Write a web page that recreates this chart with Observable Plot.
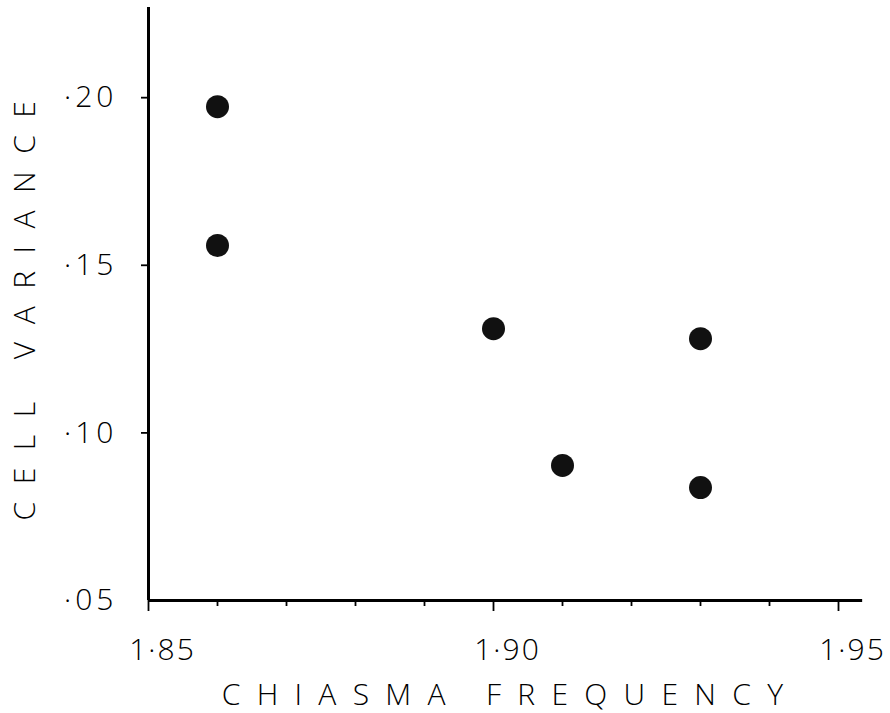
<!DOCTYPE html>
<html>
<head>
<meta charset="utf-8">
<script src="https://cdn.jsdelivr.net/npm/d3@7"></script>
<script src="https://cdn.jsdelivr.net/npm/@observablehq/plot@0.6"></script>
<style>
  html, body { margin: 0; padding: 0; background: #fff; }
  #chart { width: 890px; height: 713px; }
</style>
</head>
<body>
<div id="chart"></div>
<script>
// ---- data ----
const chiasmaFrequency = [1.86, 1.86, 1.90, 1.91, 1.93, 1.93];
const cellVariance     = [0.1973, 0.1559, 0.1311, 0.0903, 0.1281, 0.0837];

const xTicks       = [1.85, 1.90, 1.95];
const xTickLabels  = ["1·85", "1·90", "1·95"];
const xMinorTicks  = [1.86, 1.87, 1.88, 1.89, 1.91, 1.92, 1.93, 1.94];
const yTicks       = [0.05, 0.10, 0.15, 0.20];
const yTickLabels  = ["·05", "·10", "·15", "·20"];
const xTitle = "CHIASMA FREQUENCY";
const yTitle = "CELL VARIANCE";

const points = chiasmaFrequency.map((x, i) => ({x, y: cellVariance[i]}));
const labelOf = (ticks, labels) => d => labels[ticks.findIndex(t => Math.abs(t - d) < 1e-9)];

const FONT = "'Open Sans', 'DejaVu Sans', sans-serif";
const ink = "#000";

const chart = Plot.plot({
  width: 890,
  height: 713,
  marginLeft: 148,
  marginRight: 52,
  marginTop: 7,
  marginBottom: 113,
  style: {fontFamily: FONT, fontWeight: 300, background: "#fff", color: ink},
  x: {domain: [1.85, 1.95], label: null},
  y: {domain: [0.05, 0.2269], label: null},
  marks: [
    // minor x ticks
    Plot.axisX({ticks: xMinorTicks, tickSize: 6, strokeWidth: 1.8, fill: "none", label: null}),
    // major x ticks
    Plot.axisX({ticks: xTicks, tickSize: 11, strokeWidth: 1.8, fill: "none", label: null}),
    // x tick labels
    Plot.axisX({ticks: xTicks, tickSize: 0, tickPadding: 38, dx: 14, fontSize: 30,
                tickFormat: labelOf(xTicks, xTickLabels), label: null}),
    // y ticks (outward)
    Plot.axisY({ticks: [0.10, 0.15, 0.20], tickSize: 7, strokeWidth: 1.8, fill: "none", label: null}),
    // y tick labels
    Plot.axisY({ticks: yTicks, tickSize: 0, tickPadding: 31, fontSize: 30,
                tickFormat: labelOf(yTicks, yTickLabels), label: null}),
    // axis lines
    Plot.ruleX([1.85], {y1: 0.05, y2: 0.2269, stroke: ink, strokeWidth: 3}),
    Plot.ruleY([0.05], {x1: 1.85, x2: 1.9535, stroke: ink, strokeWidth: 3}),
    // data
    Plot.dot(points, {x: "x", y: "y", r: 11.5, fill: "#111", stroke: null}),
    // axis titles
    Plot.text([xTitle], {frameAnchor: "bottom", textAnchor: "middle", dx: 17, dy: 95,
                         lineAnchor: "middle", fontSize: 30, fill: ink}),
    Plot.text([yTitle], {frameAnchor: "left", textAnchor: "middle", dx: -123, dy: -2, rotate: -90,
                         lineAnchor: "middle", fontSize: 30, fill: ink})
  ]
});

chart.querySelectorAll("text").forEach(t => {
  const s = t.textContent;
  if (s === xTitle) {
    t.style.letterSpacing = "16.3px";
  } else if (s === yTitle) {
    t.style.letterSpacing = "17.5px";
  } else if (yTickLabels.includes(s)) {
    t.style.letterSpacing = "4px";
  } else if (xTickLabels.includes(s)) {
    t.style.letterSpacing = "2px";
  }
});

document.getElementById("chart").appendChild(chart);
</script>
</body>
</html>
